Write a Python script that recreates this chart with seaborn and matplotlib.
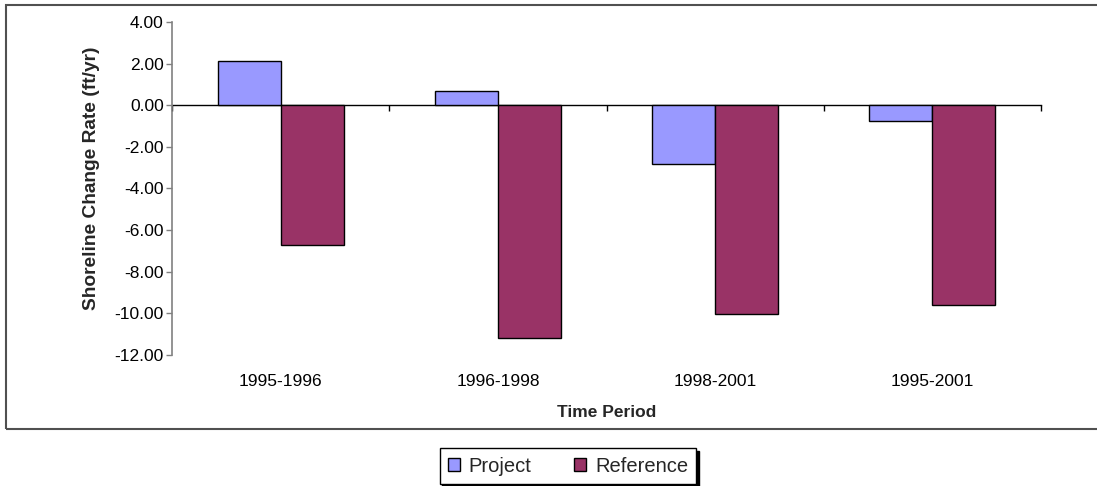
import matplotlib
matplotlib.use("Agg")
import matplotlib.pyplot as plt
import matplotlib.patches as mpatches
import numpy as np
import pandas as pd
import seaborn as sns

periods = ["1995-1996", "1996-1998", "1998-2001", "1995-2001"]
project = [2.12, 0.67, -2.84, -0.75]
reference = [-6.73, -11.20, -10.05, -9.60]
series_names = ["Project", "Reference"]
colors = ["#9999FF", "#993366"]

df = pd.DataFrame({
    "Time Period": periods * 2,
    "Rate": project + reference,
    "Series": [series_names[0]] * len(periods) + [series_names[1]] * len(periods),
})

sns.set_theme(style="white")
plt.rcParams["font.family"] = ["Liberation Sans", "DejaVu Sans"]

W, H = 1097, 486
fig = plt.figure(figsize=(W / 100, H / 100), dpi=100)
ax = fig.add_axes([172 / W, 1 - 355 / H, (1041 - 172) / W, (355 - 22) / H])

sns.barplot(data=df, x="Time Period", y="Rate", hue="Series", palette=colors,
            width=0.58, edgecolor="black", linewidth=1, saturation=1,
            ax=ax, legend=False)

ax.set_xlim(-0.5, len(periods) - 0.5)
ax.set_ylim(-12, 4)
ax.set_yticks(np.arange(-12, 4.1, 2))
ax.set_yticklabels([f"{v:.2f}" for v in np.arange(-12, 4.1, 2)])

for s in ["top", "right", "bottom"]:
    ax.spines[s].set_visible(False)
ax.spines["left"].set_color("#808080")
ax.spines["left"].set_linewidth(1.2)

ax.tick_params(axis="y", direction="out", length=4, width=1, color="#808080",
               labelsize=12.5, pad=2, left=True, labelcolor="black")
ax.tick_params(axis="x", length=0, labelsize=12.5, pad=14, labelcolor="black")

# zero line with category separator ticks
sec = ax.secondary_xaxis(0, transform=ax.transData)
sec.set_xticks(np.arange(-0.5, len(periods), 1))
sec.set_xticklabels([])
sec.tick_params(direction="out", length=4, width=1, color="black")
sec.spines["bottom"].set_color("black")
sec.spines["bottom"].set_linewidth(1)

ax.set_xlabel("Time Period", fontsize=12.5, fontweight="bold", labelpad=11)
ax.set_ylabel("Shoreline Change Rate (ft/yr)", fontsize=13.8, fontweight="bold")
ax.yaxis.set_label_coords(-0.083, 0.53)

# outer chart frame
fig.add_artist(mpatches.Rectangle((6 / W, 1 - 429 / H), 1.0, (429 - 5) / H,
                                  transform=fig.transFigure, fill=False,
                                  edgecolor="#505050", linewidth=1.5))

handles = [mpatches.Patch(facecolor=c, edgecolor="black", linewidth=1, label=n)
           for c, n in zip(colors, series_names)]
leg = fig.legend(handles=handles, loc="center", bbox_to_anchor=(568 / W, 1 - 466 / H),
                 ncol=2, fontsize=14.5, frameon=True, fancybox=False,
                 edgecolor="black", handlelength=0.6, handleheight=0.6,
                 handletextpad=0.45, columnspacing=2.1, borderpad=0.4,
                 borderaxespad=0, shadow={"color": "black", "alpha": 1})
leg.get_frame().set_linewidth(1)

fig.savefig("out.png", dpi=100, facecolor="white")
